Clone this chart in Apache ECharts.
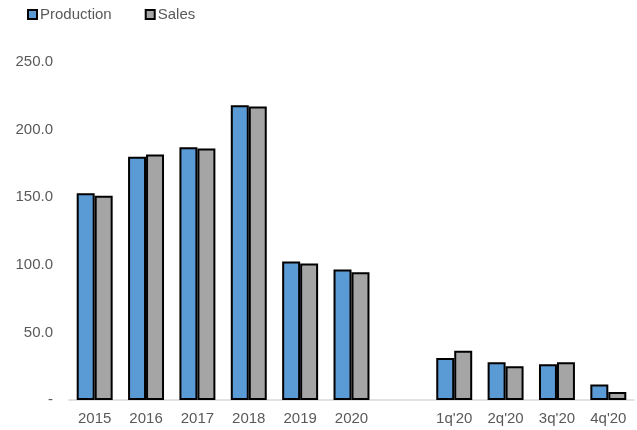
<!DOCTYPE html>
<html><head><meta charset="utf-8">
<script src="https://cdn.jsdelivr.net/npm/echarts@6/dist/echarts.min.js"></script>
<style>html,body{margin:0;padding:0;background:#fff}#c{width:637px;height:430px}</style>
</head><body><div id="c"></div>
<script>
const categories = ['2015','2016','2017','2018','2019','2020','',"1q'20","2q'20","3q'20","4q'20"];
const production = [153, 180, 187, 218, 102.5, 96.5, null, 31, 28, 26.5, 11.5];
const sales = [151, 181.5, 186, 217, 101, 94.5, null, 36.5, 25, 28, 6];
const yTicks = [0, 50, 100, 150, 200, 250];

const chart = echarts.init(document.getElementById('c'));
const font = 'Liberation Sans, Arial, sans-serif';
chart.setOption({
  animation: false,
  textStyle: { fontFamily: font },
  legend: {
    left: 22, top: 2, itemWidth: 9, itemHeight: 9, itemGap: 33, icon: 'rect',
    textStyle: { fontSize: 15, color: '#595959', fontFamily: font, padding: [0,0,0,-2] },
    data: ['Production', 'Sales']
  },
  grid: { left: 69, right: 3, top: 62, bottom: 30, containLabel: false },
  xAxis: {
    type: 'category', data: categories,
    axisLine: { lineStyle: { color: '#d9d9d9', width: 1.5 } },
    axisTick: { show: false },
    axisLabel: { color: '#595959', fontSize: 15, fontFamily: font, margin: 11 }
  },
  yAxis: {
    type: 'value', min: 0, max: 250, interval: 50,
    splitLine: { show: false }, axisLine: { show: false }, axisTick: { show: false },
    axisLabel: { color: '#595959', fontSize: 15, fontFamily: font, margin: 16,
      formatter: v => v === 0 ? '-' : v.toFixed(1) }
  },
  series: [
    { name: 'Production', type: 'bar', data: production, barGap: '0%', barCategoryGap: '30%',
      itemStyle: { color: '#5b9bd5', borderColor: '#000', borderWidth: 2 } },
    { name: 'Sales', type: 'bar', data: sales,
      itemStyle: { color: '#a5a5a5', borderColor: '#000', borderWidth: 2 } }
  ]
});
</script></body></html>
